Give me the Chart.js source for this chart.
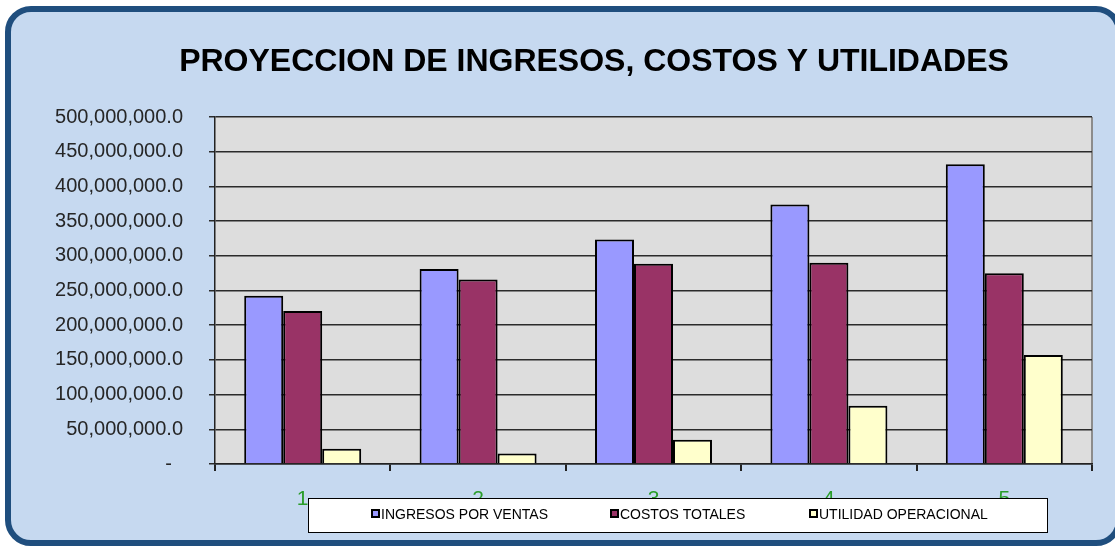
<!DOCTYPE html>
<html>
<head>
<meta charset="utf-8">
<script src="https://cdn.jsdelivr.net/npm/chart.js@4"></script>
<style>
  html, body { margin: 0; padding: 0; background: #fff; }
  #wrap { position: relative; width: 1115px; height: 546px; overflow: hidden; }
  #frame {
    position: absolute; left: 5px; top: 6px; width: 1105px; height: 528px;
    border: 6px solid #1f4e7e; border-radius: 26px; background: #c6d9f0;
  }
  #chart { position: absolute; left: 0; top: 0; }
</style>
</head>
<body>
<div id="wrap">
  <div id="frame"></div>
  <canvas id="chart" width="1115" height="546"></canvas>
</div>
<script>
const years = ["1", "2", "3", "4", "5"];
const ingresos = [242500000, 281000000, 323500000, 374000000, 432000000];
const costos = [220500000, 266000000, 288500000, 290000000, 275000000];
const utilidad = [22000000, 15000000, 35000000, 84000000, 157000000];
const yTicks = [0, 50000000, 100000000, 150000000, 200000000, 250000000,
  300000000, 350000000, 400000000, 450000000, 500000000];

function fmtMoney(v) {
  if (v === 0) return "-  ";
  return v.toLocaleString("en-US", { minimumFractionDigits: 1, maximumFractionDigits: 1 });
}

// gray plot background
const plotBg = {
  id: "plotBg",
  beforeDraw(chart) {
    const a = chart.chartArea, c = chart.ctx;
    c.save();
    c.fillStyle = "#dddddd";
    c.fillRect(a.left, a.top, a.right - a.left, a.bottom - a.top);
    c.restore();
  }
};

// title sits a bit right of the canvas centre, as in the sheet
const shiftTitle = {
  id: "shiftTitle",
  afterLayout(chart) {
    if (chart.titleBlock) {
      chart.titleBlock.left = 96;
      chart.titleBlock.right = 1092;
    }
  }
};

// excel style boxed legend under the axis
const boxLegend = {
  id: "boxLegend",
  afterDraw(chart) {
    const c = chart.ctx;
    const starts = [372, 611, 810];
    c.save();
    c.fillStyle = "#fff";
    c.fillRect(308, 498, 739, 34);
    c.strokeStyle = "#000";
    c.lineWidth = 1;
    c.strokeRect(308.5, 498.5, 739, 34);
    c.font = "14px 'Liberation Sans', Arial, sans-serif";
    c.textBaseline = "middle";
    chart.data.datasets.forEach((ds, i) => {
      const x = starts[i];
      c.fillStyle = ds.backgroundColor;
      c.fillRect(x, 510, 7, 7);
      c.lineWidth = 2;
      c.strokeStyle = "#000";
      c.strokeRect(x, 510, 7, 7);
      c.fillStyle = "#000";
      c.fillText(ds.label, x + 9, 515);
    });
    c.restore();
  }
};

new Chart(document.getElementById("chart"), {
  type: "bar",
  data: {
    labels: years,
    datasets: [
      { label: "INGRESOS POR VENTAS", data: ingresos, backgroundColor: "#9999ff" },
      { label: "COSTOS TOTALES", data: costos, backgroundColor: "#993366" },
      { label: "UTILIDAD OPERACIONAL", data: utilidad, backgroundColor: "#ffffcc" }
    ]
  },
  options: {
    responsive: false,
    animation: false,
    layout: { padding: { left: 0, right: 23, top: 20, bottom: 0 } },
    datasets: {
      bar: { borderColor: "#000", borderWidth: 2, categoryPercentage: 0.667, barPercentage: 1 }
    },
    plugins: {
      legend: { display: false },
      tooltip: { enabled: false },
      title: {
        display: true,
        text: "PROYECCION DE INGRESOS, COSTOS Y UTILIDADES",
        color: "#000",
        font: { family: "'Liberation Sans', Arial, sans-serif", size: 32, weight: "bold", lineHeight: 1.2 },
        padding: { top: 23, bottom: 35.6 }
      }
    },
    scales: {
      x: {
        afterFit(scale) { scale.height = 82; },
        border: { color: "#222", width: 1.5 },
        grid: {
          drawOnChartArea: true,
          color: ctx => ctx.type === "scale" ? "#8c8c8c" : "rgba(0,0,0,0)",
          lineWidth: 2,
          tickColor: "#222",
          tickLength: 7
        },
        ticks: {
          color: "#2a9d2a",
          padding: 16,
          font: { family: "'Liberation Sans', Arial, sans-serif", size: 21 }
        }
      },
      y: {
        min: 0,
        max: 500000000,
        afterFit(scale) { scale.width = 215; },
        afterBuildTicks(scale) { scale.ticks = yTicks.map(v => ({ value: v })); },
        border: { color: "#222", width: 1.5 },
        grid: { color: "#2a2a2a", lineWidth: 1.5, tickLength: 6 },
        ticks: {
          color: "#262626",
          padding: 26,
          font: { family: "'Liberation Sans', Arial, sans-serif", size: 20 },
          callback: v => fmtMoney(v)
        }
      }
    }
  },
  plugins: [plotBg, shiftTitle, boxLegend]
});
</script>
</body>
</html>
